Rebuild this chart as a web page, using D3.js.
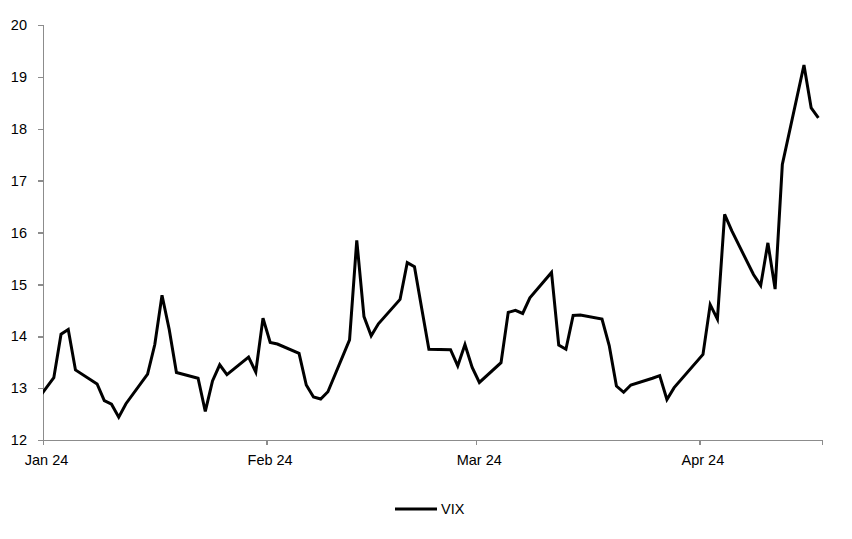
<!DOCTYPE html>
<html>
<head>
<meta charset="utf-8">
<title>VIX</title>
<script src="https://cdnjs.cloudflare.com/ajax/libs/d3/7.8.5/d3.min.js"></script>
<style>
body { margin: 0; background: #ffffff; }
svg { display: block; }
text { font-family: 'Liberation Sans', Arial, sans-serif; font-size: 14.5px; fill: #000000; }
.axis path, .axis line { stroke: #8c8c8c; stroke-width: 1.5px; shape-rendering: crispEdges; }
</style>
</head>
<body>
<svg id="chart" width="852" height="539"></svg>
<script>
// VIX closes (Dec 29 point is only there so the line runs in from the left edge)
var dates = [
    "2023-12-29",
    "2024-01-02", "2024-01-03", "2024-01-04", "2024-01-05", "2024-01-08", "2024-01-09", "2024-01-10",
    "2024-01-11", "2024-01-12", "2024-01-15", "2024-01-16", "2024-01-17", "2024-01-18", "2024-01-19",
    "2024-01-22", "2024-01-23", "2024-01-24", "2024-01-25", "2024-01-26", "2024-01-29", "2024-01-30",
    "2024-01-31", "2024-02-01", "2024-02-02", "2024-02-05", "2024-02-06", "2024-02-07", "2024-02-08",
    "2024-02-09", "2024-02-12", "2024-02-13", "2024-02-14", "2024-02-15", "2024-02-16", "2024-02-19",
    "2024-02-20", "2024-02-21", "2024-02-22", "2024-02-23", "2024-02-26", "2024-02-27", "2024-02-28",
    "2024-02-29", "2024-03-01", "2024-03-04", "2024-03-05", "2024-03-06", "2024-03-07", "2024-03-08",
    "2024-03-11", "2024-03-12", "2024-03-13", "2024-03-14", "2024-03-15", "2024-03-18", "2024-03-19",
    "2024-03-20", "2024-03-21", "2024-03-22", "2024-03-25", "2024-03-26", "2024-03-27", "2024-03-28",
    "2024-04-01", "2024-04-02", "2024-04-03", "2024-04-04", "2024-04-05", "2024-04-08", "2024-04-09",
    "2024-04-10", "2024-04-11", "2024-04-12", "2024-04-15", "2024-04-16", "2024-04-17"
];
var vix = [
    12.45,
    13.20, 14.04, 14.13, 13.35, 13.08, 12.76, 12.69,
    12.44, 12.70, 13.27, 13.84, 14.79, 14.13, 13.30,
    13.19, 12.55, 13.14, 13.45, 13.26, 13.60, 13.31,
    14.35, 13.88, 13.85, 13.67, 13.06, 12.83, 12.79,
    12.93, 13.93, 15.85, 14.38, 14.01, 14.24, 14.71,
    15.42, 15.34, 14.54, 13.75, 13.74, 13.43, 13.84,
    13.40, 13.11, 13.49, 14.46, 14.50, 14.44, 14.74,
    15.23, 13.83, 13.75, 14.40, 14.41, 14.33, 13.82,
    13.04, 12.92, 13.06, 13.19, 13.24, 12.78, 13.01,
    13.65, 14.61, 14.33, 16.35, 16.03, 15.19, 14.98,
    15.80, 14.91, 17.31, 19.23, 18.40, 18.21
];
var yTicks = [12, 13, 14, 15, 16, 17, 18, 19, 20];
var seriesName = "VIX";

var parseDate = d3.utcParse("%Y-%m-%d");
var data = dates.map(function (d, i) {
    // points sit in the middle of their day
    return { date: d3.utcHour.offset(parseDate(d), 12), value: vix[i] };
});

var svg = d3.select("#chart");
var plotLeft = 43, plotRight = 822, plotTop = 25, plotBottom = 440;

var x = d3.scaleUtc()
    .domain([parseDate("2024-01-01"), parseDate("2024-04-18")])
    .range([plotLeft, plotRight]);

var y = d3.scaleLinear()
    .domain([12, 20])
    .range([plotBottom, plotTop]);

// clip so the line starts at the y axis
svg.append("defs").append("clipPath")
    .attr("id", "plotClip")
    .append("rect")
    .attr("x", plotLeft)
    .attr("y", 0)
    .attr("width", plotRight - plotLeft)
    .attr("height", plotBottom);

// axes
var yAxis = svg.append("g")
    .attr("class", "axis")
    .attr("transform", "translate(" + plotLeft + ",0)")
    .call(d3.axisLeft(y).tickValues(yTicks).tickSize(5).tickPadding(11).tickFormat(d3.format("d")));

var xAxis = svg.append("g")
    .attr("class", "axis")
    .attr("transform", "translate(0," + plotBottom + ")")
    .call(d3.axisBottom(x).ticks(d3.utcMonth.every(1)).tickSize(5).tickPadding(10)
        .tickFormat(d3.utcFormat("%b %y")));

xAxis.selectAll("text").attr("dx", "3px");
svg.selectAll(".axis text").style("font-size", "14.5px").style("fill", "#000");

// the series
var line = d3.line()
    .x(function (d) { return x(d.date); })
    .y(function (d) { return y(d.value); });

svg.append("path")
    .datum(data)
    .attr("clip-path", "url(#plotClip)")
    .attr("fill", "none")
    .attr("stroke", "#000000")
    .attr("stroke-width", 3)
    .attr("stroke-linejoin", "miter")
    .attr("d", line);

// legend
var legend = svg.append("g").attr("transform", "translate(395,509)");
legend.append("line")
    .attr("x1", 0).attr("x2", 42)
    .attr("y1", 0).attr("y2", 0)
    .attr("stroke", "#000000")
    .attr("stroke-width", 3);
legend.append("text")
    .attr("x", 46)
    .attr("y", 0)
    .attr("dy", "0.35em")
    .text(seriesName);
</script>
</body>
</html>
